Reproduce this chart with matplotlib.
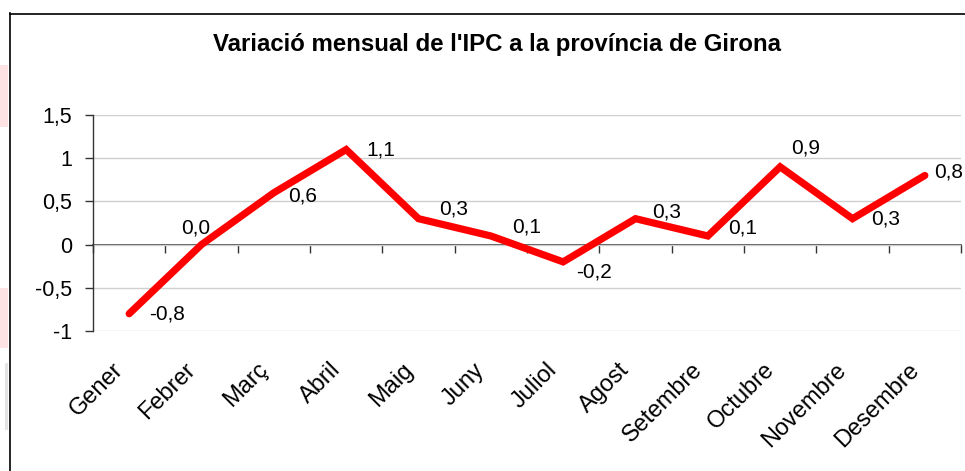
import matplotlib
matplotlib.use("Agg")
import matplotlib.pyplot as plt
from matplotlib.lines import Line2D
from matplotlib.patches import Rectangle
from matplotlib.transforms import ScaledTranslation

months = ["Gener", "Febrer", "Març", "Abril", "Maig", "Juny", "Juliol",
          "Agost", "Setembre", "Octubre", "Novembre", "Desembre"]
values = [-0.8, 0.0, 0.6, 1.1, 0.3, 0.1, -0.2, 0.3, 0.1, 0.9, 0.3, 0.8]
yticks = [-1, -0.5, 0, 0.5, 1, 1.5]
ytick_labels = ["-1", "-0,5", "0", "0,5", "1", "1,5"]
title = "Variació mensual de l'IPC a la província de Girona"

# label offsets in pixels (dx, dy)
label_offsets = [(20, 0), (-20, 17), (14, -3), (20, 0), (21, 10), (21, 9),
                 (13, -10), (17, 7), (20, 8), (11, 19), (19, 0), (9, 3)]

plt.rcParams['font.family'] = ['Liberation Sans', 'DejaVu Sans']

W, H = 965, 471
fig = plt.figure(figsize=(W / 100, H / 100), dpi=100)
fig.patch.set_facecolor('white')

# decorative bits at left edge
fig.add_artist(Rectangle((0, 1 - 127 / H), 8 / W, 62 / H, transform=fig.transFigure,
                         facecolor='#fde3e3', edgecolor='none'))
fig.add_artist(Rectangle((0, 1 - 348 / H), 8 / W, 60 / H, transform=fig.transFigure,
                         facecolor='#fde3e3', edgecolor='none'))
fig.add_artist(Rectangle((5 / W, 1 - 430 / H), 3 / W, 67 / H, transform=fig.transFigure,
                         facecolor='#e4e4e4', edgecolor='none'))
# frame
fig.add_artist(Line2D([9.5 / W, 9.5 / W], [0, 1 - 13 / H], transform=fig.transFigure,
                      color='black', lw=1.2))
fig.add_artist(Line2D([9.5 / W, 1], [1 - 13.5 / H, 1 - 13.5 / H], transform=fig.transFigure,
                      color='black', lw=1.2))

left, right = 93 / W, 961 / W
bottom, top = 1 - 331 / H, 1 - 115 / H
ax = fig.add_axes([left, bottom, right - left, top - bottom])

x = list(range(len(months)))
ax.plot(x, values, color='#ff0000', lw=5.2, solid_capstyle='round',
        solid_joinstyle='miter', zorder=5, clip_on=False)

ax.set_xlim(-0.5, len(months) - 0.5)
ax.set_ylim(-1, 1.5)
ax.set_yticks(yticks)
ax.set_yticklabels(ytick_labels, fontsize=15.5)
ax.tick_params(axis='y', length=6, width=1, color='#333333', pad=9, direction='out')
ax.yaxis.grid(True, color='#cfcfcf', lw=1)
ax.set_axisbelow(True)

for s in ['top', 'right', 'bottom']:
    ax.spines[s].set_visible(False)
ax.spines['left'].set_color('#333333')
ax.spines['left'].set_linewidth(1)

ax.set_xticks(x)
ax.set_xticklabels(months, rotation=45, ha='right', va='top',
                   rotation_mode='anchor', fontsize=17)
ax.tick_params(axis='x', length=0, pad=20)
shift = ScaledTranslation(-17 / 100, 0, fig.dpi_scale_trans)
for lab in ax.get_xticklabels():
    lab.set_transform(lab.get_transform() + shift)

sec = ax.secondary_xaxis(0, transform=ax.transData)
sec.set_xticks([i - 0.5 for i in range(len(months) + 1)])
sec.set_xticklabels([])
sec.tick_params(axis='x', length=6, width=1, color='#333333', direction='out')
sec.spines['bottom'].set_color('#333333')
sec.spines['bottom'].set_linewidth(1.2)

for xi, v, (dx, dy) in zip(x, values, label_offsets):
    ax.annotate(f"{v:.1f}".replace('.', ','), (xi, v), xytext=(dx, dy),
                textcoords='offset pixels', ha='left', va='center',
                fontsize=15, zorder=6)

fig.text(497 / W, 1 - 45 / H, title, ha='center', va='center',
         fontsize=17.3, fontweight='bold')

fig.savefig('out.png', dpi=100, facecolor='white')
